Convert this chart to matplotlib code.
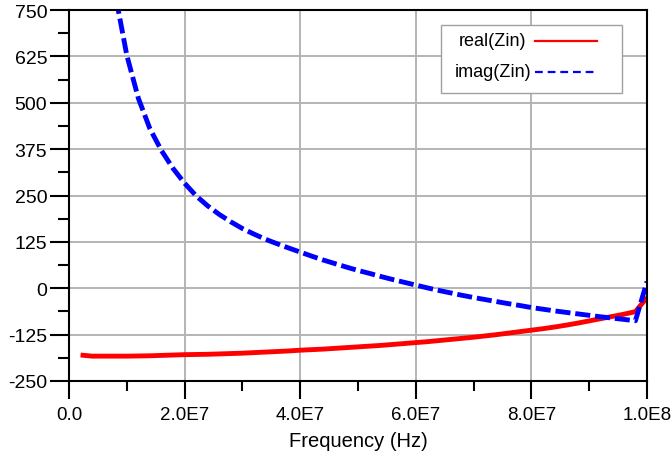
import matplotlib
matplotlib.use("Agg")
import matplotlib.pyplot as plt
from matplotlib.lines import Line2D
from matplotlib.patches import Rectangle
from matplotlib.ticker import MultipleLocator, FixedLocator, FixedFormatter

plt.rcParams["font.family"] = ["Liberation Sans", "DejaVu Sans"]
plt.rcParams["axes.unicode_minus"] = False

# frequency sweep (Hz)
freq = [2e6, 4e6, 6e6, 8e6, 1.0e7, 1.2e7, 1.4e7, 1.6e7, 1.8e7, 2.0e7,
        2.2e7, 2.4e7, 2.6e7, 2.8e7, 3.0e7, 3.2e7, 3.4e7, 3.6e7, 3.8e7, 4.0e7,
        4.2e7, 4.4e7, 4.6e7, 4.8e7, 5.0e7, 5.2e7, 5.4e7, 5.6e7, 5.8e7, 6.0e7,
        6.2e7, 6.4e7, 6.6e7, 6.8e7, 7.0e7, 7.2e7, 7.4e7, 7.6e7, 7.8e7, 8.0e7,
        8.2e7, 8.4e7, 8.6e7, 8.8e7, 9.0e7, 9.2e7, 9.4e7, 9.6e7, 9.8e7, 1.0e8]

real_zin = [-180, -183, -183, -183, -183, -182.5, -182, -181, -180, -179,
            -178.5, -178, -177, -176, -175, -173.5, -172, -170.5, -169, -167,
            -165.5, -164, -162, -160, -158, -156, -154, -151.5, -149, -146.5,
            -144, -141, -138, -135, -132, -128.5, -125, -121, -117, -113,
            -109, -104.5, -99.5, -94, -88, -82, -76, -70, -63, -25]

imag_zin = [3250, 1620, 1080, 793, 628, 512, 430, 371, 323, 283,
            249, 222, 199, 179, 161, 146, 132, 120, 108.5, 97.5,
            86.5, 76, 66.5, 57, 48, 40, 31.5, 23.5, 16, 8.5,
            1, -6, -12.5, -19, -25, -30.5, -36, -41.5, -46.5, -52,
            -56.5, -61, -65, -69, -73, -77, -80.5, -84, -87.5, 18]

series_labels = ["real(Zin)", "imag(Zin)"]
xticks = [0, 2e7, 4e7, 6e7, 8e7, 1e8]
xtick_labels = ["0.0", "2.0E7", "4.0E7", "6.0E7", "8.0E7", "1.0E8"]
yticks = [-250, -125, 0, 125, 250, 375, 500, 625, 750]

W, H = 672, 460
fig = plt.figure(figsize=(W / 100, H / 100), dpi=100)
ax = fig.add_axes([69 / W, 1 - 382 / H, 578 / W, 371 / H])

ax.plot(freq, real_zin, color="#ff0000", lw=3.5, solid_capstyle="butt")
ax.plot(freq, imag_zin, color="#0000ff", lw=3.5, dashes=(3.1, 1.0))

ax.set_xlim(0, 1e8)
ax.set_ylim(-250, 750)

ax.xaxis.set_major_locator(FixedLocator(xticks))
ax.xaxis.set_major_formatter(FixedFormatter(xtick_labels))
ax.xaxis.set_minor_locator(MultipleLocator(1e7))
ax.yaxis.set_major_locator(FixedLocator(yticks))
ax.yaxis.set_minor_locator(MultipleLocator(62.5))

ax.tick_params(axis="y", which="major", direction="out", length=13.7,
               width=1.5, labelsize=14, pad=2)
ax.tick_params(axis="x", which="major", direction="out", length=13,
               width=1.5, labelsize=13.5, pad=5)
ax.tick_params(axis="y", which="minor", direction="out", length=8, width=1.5)
ax.tick_params(axis="x", which="minor", direction="out", length=7, width=1.5)
ax.tick_params(top=False, right=False, which="both")

ax.grid(True, which="major", color="#b4b4b4", lw=1.4)
ax.set_axisbelow(True)
for sp in ax.spines.values():
    sp.set_color("black")
    sp.set_linewidth(1.5)

ax.set_xlabel("Frequency (Hz)", fontsize=14.5, labelpad=6)

# legend box drawn by hand: centred labels, sample line on the right
def fy(py):
    return 1 - py / H

fig.add_artist(Rectangle((441 / W, fy(94)), 181 / W, 68 / H,
                         transform=fig.transFigure, facecolor="white",
                         edgecolor="#a0a0a0", lw=1.0, zorder=5))
for i, (lab, col, ls) in enumerate(zip(series_labels, ["#ff0000", "#0000ff"],
                                        [None, (3.5, 2.2)])):
    py = 42 + 30.5 * i
    fig.text(493 / W, fy(py), lab, ha="center", va="center",
             fontsize=13, zorder=6)
    ln = Line2D([535 / W, 597 / W], [fy(py), fy(py)], color=col, lw=1.6,
                transform=fig.transFigure, zorder=6)
    if ls:
        ln.set_dashes(ls)
    fig.add_artist(ln)

fig.savefig("out.png", dpi=100, facecolor="white")
